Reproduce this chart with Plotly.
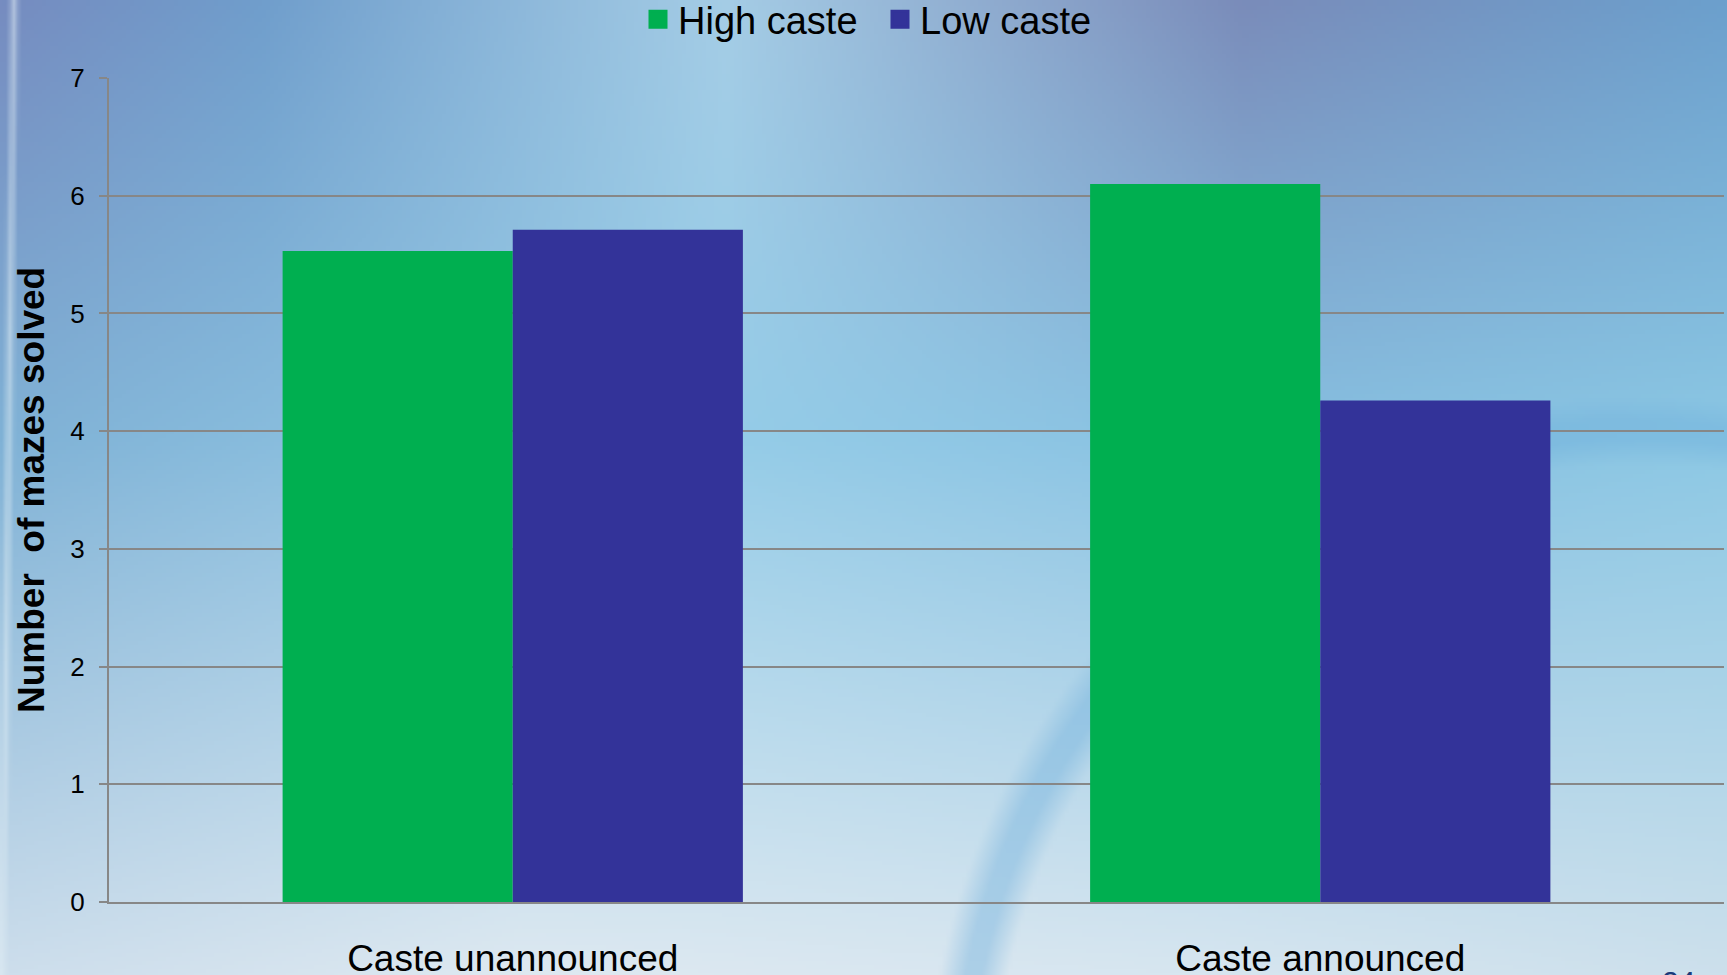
import base64, struct, zlib
import numpy as np
import plotly.graph_objects as go

# ---- data ----
categories = ["Caste unannounced", "Caste announced"]
series_names = ["High caste", "Low caste"]
high_caste = [5.53, 6.10]
low_caste = [5.71, 4.26]
y_ticks = [0, 1, 2, 3, 4, 5, 6, 7]

colors = ["#00AF50", "#333399"]

# ---- layout geometry ----
FW, FH = 1727, 975
ML, MR, MT, MB = 109, 3, 78, 73
PW, PH = FW - ML - MR, FH - MT - MB

# ---- background gradient image (styling only) ----
W, H = 432, 244
def lerp_row(pts, n):
    xs = np.array([p[0] for p in pts]); cs = np.array([p[1] for p in pts], float)
    xx = np.linspace(0, 1, n)
    return np.stack([np.interp(xx, xs, cs[:, k]) for k in range(3)], axis=1)

top = lerp_row([(0.0, (118, 140, 192)), (0.15, (112, 158, 204)), (0.42, (165, 205, 230)),
                (0.72, (122, 140, 186)), (1.0, (108, 160, 205))], W)
mid = lerp_row([(0.0, (128, 178, 214)), (0.4, (150, 205, 232)), (0.75, (135, 192, 225)),
                (1.0, (140, 200, 228))], W)
bot = lerp_row([(0.0, (205, 222, 236)), (0.3, (222, 233, 241)), (0.7, (215, 230, 240)),
                (1.0, (205, 224, 236))], W)
img = np.zeros((H, W, 3))
for j in range(H):
    t = j / (H - 1)
    if t < 0.45:
        s = t / 0.45
        img[j] = top * (1 - s) + mid * s
    else:
        s = (t - 0.45) / 0.55
        img[j] = mid * (1 - s) + bot * s
# decorative ring (bottom right) and light left edge strip
px = (np.arange(W) + 0.5) * FW / W
py = (np.arange(H) + 0.5) * FH / H
PX, PY = np.meshgrid(px, py)
d = np.hypot(PX - 1640, PY - 1110)
ring = np.clip(1.3 - np.abs(d - 680) / 26, 0, 1) * 0.42
ring_col = np.array([110, 175, 220], float)
img = img * (1 - ring[..., None]) + ring_col * ring[..., None]
edge = np.clip(1 - np.abs(PX - (14 - PY * 0.012)) / 6, 0, 1) * 0.55
img = img * (1 - edge[..., None]) + np.array([225, 238, 245], float) * edge[..., None]
img = np.clip(img, 0, 255).astype(np.uint8)

def to_png(a):
    h, w, _ = a.shape
    raw = b"".join(b"\x00" + a[r].tobytes() for r in range(h))
    def chunk(t, dd):
        c = struct.pack(">I", len(dd)) + t + dd
        return c + struct.pack(">I", zlib.crc32(t + dd) & 0xffffffff)
    return (b"\x89PNG\r\n\x1a\n" + chunk(b"IHDR", struct.pack(">IIBBBBB", w, h, 8, 2, 0, 0, 0))
            + chunk(b"IDAT", zlib.compress(raw, 9)) + chunk(b"IEND", b""))

bg_uri = "data:image/png;base64," + base64.b64encode(to_png(img)).decode()

fig = go.Figure()
for name, vals, col in zip(series_names, [high_caste, low_caste], colors):
    fig.add_trace(go.Bar(x=categories, y=vals, name=name, marker_color=col,
                         marker_line_width=0, showlegend=False))
for name, col in zip(series_names, colors):
    fig.add_trace(go.Scatter(x=[None], y=[None], mode="markers", name=name,
                             marker=dict(symbol="square", size=16, color=col,
                                         line=dict(width=3, color=col))))

grid = "#878787"
fig.update_layout(
    width=FW, height=FH, autosize=False,
    margin=dict(l=ML, r=MR, t=MT, b=MB, autoexpand=False),
    paper_bgcolor="#9cc6e0",
    plot_bgcolor="rgba(0,0,0,0)",
    font=dict(family="Liberation Sans, Arial, sans-serif", color="black"),
    barmode="group", bargap=0.43, bargroupgap=0,
    legend=dict(orientation="h", xref="paper", yref="container",
                x=(638 - ML) / PW, xanchor="left", y=0.98, yanchor="middle",
                font=dict(size=38), bgcolor="rgba(0,0,0,0)", itemclick=False,
                entrywidth=197, entrywidthmode="pixels"),
    images=[dict(source=bg_uri, xref="paper", yref="paper",
                 x=-ML / PW, y=1 + MT / PH, sizex=FW / PW, sizey=FH / PH,
                 sizing="stretch", layer="below", xanchor="left", yanchor="top")],
    xaxis=dict(showline=True, linecolor=grid, linewidth=2, showgrid=False, zeroline=False,
               automargin=False, ticks="", tickfont=dict(size=37), ticklabelstandoff=23),
    yaxis=dict(range=[0, 7], tickvals=y_ticks, showgrid=True, gridcolor=grid, gridwidth=2,
               showline=True, linecolor=grid, linewidth=2, zeroline=False, automargin=False,
               ticks="outside", ticklen=8, tickwidth=2, tickcolor=grid,
               tickfont=dict(size=26), ticklabelstandoff=9),
    annotations=[
        dict(text="<b>Number  of mazes solved</b>", xref="paper", yref="paper",
             x=(31 - ML) / PW, y=0.5, textangle=-90, showarrow=False,
             font=dict(size=37, color="black"), xanchor="center", yanchor="middle"),
        dict(text="24", xref="paper", yref="paper", x=(1678 - ML) / PW,
             y=-(981 - MT - PH) / PH, showarrow=False,
             font=dict(size=30, color="#1a3a7a"), xanchor="center", yanchor="middle"),
    ],
)

fig.write_html("out.html", config={"displayModeBar": False},
               post_script="document.body.style.margin='0px';document.body.style.overflow='hidden';")
